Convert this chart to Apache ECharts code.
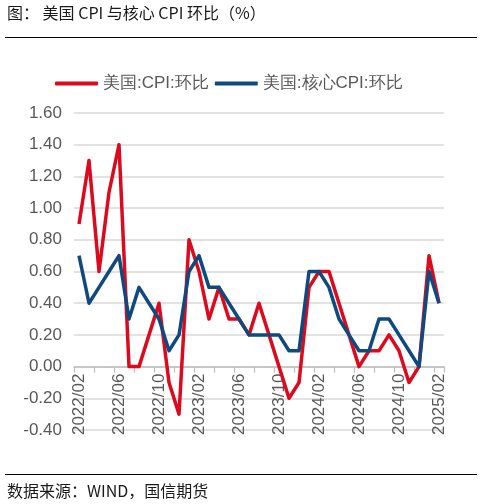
<!DOCTYPE html>
<html>
<head>
<meta charset="utf-8">
<style>
  html, body { margin: 0; padding: 0; background: #fff; }
  #chart { width: 482px; height: 504px; }
</style>
<script src="https://cdn.jsdelivr.net/npm/echarts@6.0.0/dist/echarts.min.js"></script>
</head>
<body>
<div id="chart"></div>
<script>
// months shown on the x axis, 2022/02 .. 2025/02
const months = [
  "2022/02","2022/03","2022/04","2022/05","2022/06","2022/07","2022/08","2022/09","2022/10","2022/11","2022/12",
  "2023/01","2023/02","2023/03","2023/04","2023/05","2023/06","2023/07","2023/08","2023/09","2023/10","2023/11","2023/12",
  "2024/01","2024/02","2024/03","2024/04","2024/05","2024/06","2024/07","2024/08","2024/09","2024/10","2024/11","2024/12",
  "2025/01","2025/02"
];

// 美国:CPI:环比
const cpiMoM = [
  0.9, 1.3, 0.6, 1.1, 1.4, 0.0, 0.0, 0.2, 0.4, -0.1, -0.3,
  0.8, 0.6, 0.3, 0.5, 0.3, 0.3, 0.2, 0.4, 0.2, 0.0, -0.2, -0.1,
  0.5, 0.6, 0.6, 0.4, 0.2, 0.0, 0.1, 0.1, 0.2, 0.1, -0.1, 0.0,
  0.7, 0.4
];

// 美国:核心CPI:环比
const coreMoM = [
  0.7, 0.4, 0.5, 0.6, 0.7, 0.3, 0.5, 0.4, 0.3, 0.1, 0.2,
  0.6, 0.7, 0.5, 0.5, 0.4, 0.3, 0.2, 0.2, 0.2, 0.2, 0.1, 0.1,
  0.6, 0.6, 0.5, 0.3, 0.2, 0.1, 0.1, 0.3, 0.3, 0.2, 0.1, 0.0,
  0.6, 0.4
];

const seriesNames = ["美国:CPI:环比", "美国:核心CPI:环比"];
const titleText = "图： 美国 CPI 与核心 CPI 环比（%）";
const sourceText = "数据来源：WIND，国信期货";

const yMin = -0.4, yMax = 1.6;
const gridTop = 113, gridBottom = 74, chartH = 504;

const chart = echarts.init(document.getElementById("chart"));

const latin = "Liberation Sans, Arial, Helvetica, sans-serif";
const cjk = "Noto Sans CJK SC, sans-serif";

// pull the category axis up so it sits on the zero line (labels hang just below it)
const plotH = chartH - gridTop - gridBottom;
const zeroOffset = -plotH * (0 - yMin) / (yMax - yMin);

chart.setOption({
  animation: false,
  backgroundColor: "#fff",
  textStyle: { fontFamily: latin },
  graphic: [
    { type: "text", left: 7, top: 5,
      style: { text: titleText, fontSize: 16, fill: "#1a1a1a", fontFamily: cjk } },
    { type: "line", shape: { x1: 5, y1: 37.5, x2: 477, y2: 37.5 },
      style: { stroke: "#000", lineWidth: 1 } },
    { type: "line", shape: { x1: 5, y1: 474.5, x2: 477, y2: 474.5 },
      style: { stroke: "#000", lineWidth: 1 } },
    { type: "text", left: 7, top: 483,
      style: { text: sourceText, fontSize: 16, fill: "#1a1a1a", fontFamily: cjk } }
  ],
  legend: {
    top: 70,
    left: 50,
    itemWidth: 43,
    itemHeight: 4,
    itemGap: 6,
    icon: "roundRect",
    textStyle: { color: "#595959", fontSize: 17, fontFamily: latin },
    data: seriesNames
  },
  grid: { left: 74, right: 38, top: gridTop, bottom: gridBottom, containLabel: false },
  xAxis: {
    type: "category",
    data: months,
    boundaryGap: true,
    offset: zeroOffset,
    axisLine: { onZero: false, lineStyle: { color: "#bfbfbf", width: 1.5 } },
    axisTick: { show: true, interval: 1, length: 6, lineStyle: { color: "#bfbfbf", width: 1.2 } },
    axisLabel: { interval: 3, rotate: 90, margin: 7, color: "#595959", fontSize: 17 },
    splitLine: { show: false }
  },
  yAxis: {
    type: "value",
    min: yMin,
    max: yMax,
    interval: 0.2,
    axisLine: { show: false },
    axisTick: { show: false },
    axisLabel: { color: "#595959", fontSize: 17, margin: 12,
      formatter: v => v.toFixed(2) },
    splitLine: { lineStyle: { color: "#d9d9d9", width: 1.5 } }
  },
  series: [
    { name: seriesNames[0], type: "line", data: cpiMoM, symbol: "none",
      itemStyle: { color: "#DC0A1E" },
      lineStyle: { color: "#DC0A1E", width: 3.5, join: "round" } },
    { name: seriesNames[1], type: "line", data: coreMoM, symbol: "none",
      itemStyle: { color: "#0E4A7E" },
      lineStyle: { color: "#0E4A7E", width: 3.5, join: "round" } }
  ]
});
</script>
</body>
</html>
